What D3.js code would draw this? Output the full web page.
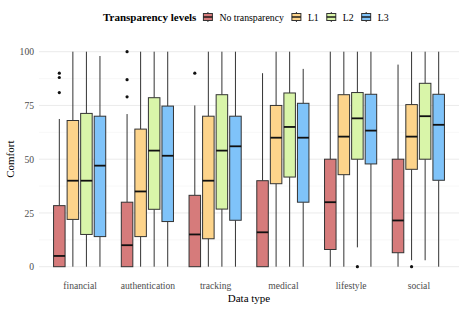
<!DOCTYPE html>
<html><head><meta charset="utf-8">
<script src="https://cdn.jsdelivr.net/npm/d3@7"></script>
<style>body{margin:0;background:#fff}svg{display:block;font-family:"Liberation Serif","DejaVu Serif",serif}</style>
</head><body><svg id="c" width="465" height="310"></svg>
<script>
const categories = ["financial","authentication","tracking","medical","lifestyle","social"];
const levels = ["No transparency","L1","L2","L3"];
const levelColors = ["#d67b7b","#fdd48b","#d9f5a9","#7fc3f9"];
const yTicks = [0,25,50,75,100];
// [lower whisker, q1, median, q3, upper whisker] per category
const noTransparency = [[0,0,5,28.4,68.7],[0,0,10,30,71],[0,0,15,33.2,75],[0,0,16,40,90],[0,8,30,50,100],[0,6.5,21.5,50,94]];
const noTransparencyOutliers = [[81,88,90],[79,87,100],[90],[],[],[]];
const l1 = [[0,22,40,68,100],[0,14,35,64,100],[0,13,40,70,100],[0,38.6,60,75,100],[0,42.8,60.5,80,100],[3,45.3,60.5,75.4,100]];
const l1Outliers = [[],[],[],[],[],[0]];
const l2 = [[0,15,40,71.3,100],[0,26.7,54,78.6,100],[0,26.8,54,80,100],[0,41.7,65,80.8,100],[9,50,69,81,100],[3,50,70,85.3,100]];
const l2Outliers = [[],[],[],[],[0],[]];
const l3 = [[0,14,47,70,98],[0,21,51.6,74.7,100],[0,21.6,56,70,100],[0,30,60,76,92],[0,47.8,63.3,80.2,100],[0,40.2,66,80.2,100]];
const l3Outliers = [[],[],[],[],[],[]];

const stats = [noTransparency,l1,l2,l3];
const outs = [noTransparencyOutliers,l1Outliers,l2Outliers,l3Outliers];

const svg = d3.select("#c");
const left = 39, right = 459;
const x = d3.scalePoint().domain(categories).range([left,right]).padding(0.6);
const step = x.step();
const xs = d3.scaleBand().domain(levels).range([-0.4*step,0.4*step]).paddingInner(0.15).paddingOuter(0.075);
const y = d3.scaleLinear().domain([0,100]).range([266.7,51.7]);

// gridlines
const g = svg.append("g");
[12.5,37.5,62.5,87.5].forEach(v=>g.append("line").attr("x1",left).attr("x2",right).attr("y1",y(v)).attr("y2",y(v)).attr("stroke","#f4f4f4").attr("stroke-width",0.6));
yTicks.forEach(v=>g.append("line").attr("x1",left).attr("x2",right).attr("y1",y(v)).attr("y2",y(v)).attr("stroke","#ebebeb").attr("stroke-width",1));

// y axis labels
const yAxis = d3.axisLeft(y).tickValues(yTicks).tickSize(0).tickPadding(5);
const ya = svg.append("g").attr("transform",`translate(${left},0)`).call(yAxis);
ya.select(".domain").remove();
ya.selectAll("text").attr("fill","#4d4d4d").style("font-size","9.6px").style("font-family","Liberation Serif");

// x axis labels
const xAxis = d3.axisBottom(x).tickSize(0).tickPadding(0);
const xa = svg.append("g").attr("transform",`translate(0,282)`).call(xAxis);
xa.select(".domain").remove();
xa.selectAll("text").attr("fill","#4d4d4d").style("font-size","9.6px").style("font-family","Liberation Serif");

// boxes
const bw = xs.bandwidth();
stats.forEach((arr,li)=>{
  arr.forEach((s,ci)=>{
    const cx = x(categories[ci]) + xs(levels[li]) + bw/2;
    const gg = svg.append("g");
    gg.append("line").attr("x1",cx).attr("x2",cx).attr("y1",y(s[4])).attr("y2",y(s[3])).attr("stroke","#333").attr("stroke-width",1);
    gg.append("line").attr("x1",cx).attr("x2",cx).attr("y1",y(s[1])).attr("y2",y(s[0])).attr("stroke","#333").attr("stroke-width",1);
    gg.append("rect").attr("x",cx-bw/2).attr("width",bw).attr("y",y(s[3])).attr("height",y(s[1])-y(s[3]))
      .attr("fill",levelColors[li]).attr("stroke","#333").attr("stroke-width",1);
    gg.append("line").attr("x1",cx-bw/2).attr("x2",cx+bw/2).attr("y1",y(s[2])).attr("y2",y(s[2])).attr("stroke","#111").attr("stroke-width",1.8);
    outs[li][ci].forEach(o=>gg.append("circle").attr("cx",cx).attr("cy",y(o)).attr("r",1.6).attr("fill","#111"));
  });
});

// axis titles
svg.append("text").attr("x",(left+right)/2).attr("y",302).attr("text-anchor","middle").style("font-size","11px").text("Data type");
svg.append("text").attr("transform",`translate(14,${(51.7+266.7)/2}) rotate(-90)`).attr("text-anchor","middle").style("font-size","11px").text("Comfort");

// legend
const lg = svg.append("g").attr("transform","translate(0,21)");
const t = lg.append("text").attr("x",103).attr("y",0).style("font-size","11px").style("font-weight","bold").text("Transparency levels");
let cx0 = 103 + t.node().getComputedTextLength() + 7;
levels.forEach((lv,i)=>{
  const kx = cx0, kw = 9;
  lg.append("line").attr("x1",kx+kw/2).attr("x2",kx+kw/2).attr("y1",-9).attr("y2",1).attr("stroke","#333");
  lg.append("rect").attr("x",kx).attr("y",-7.5).attr("width",kw).attr("height",7).attr("fill",levelColors[i]).attr("stroke","#333");
  lg.append("line").attr("x1",kx).attr("x2",kx+kw).attr("y1",-4).attr("y2",-4).attr("stroke","#111").attr("stroke-width",1.4);
  const tx = lg.append("text").attr("x",kx+kw+7).attr("y",0).style("font-size","9.8px").text(lv);
  cx0 = kx + kw + 7 + tx.node().getComputedTextLength() + 8;
});
</script></body></html>
